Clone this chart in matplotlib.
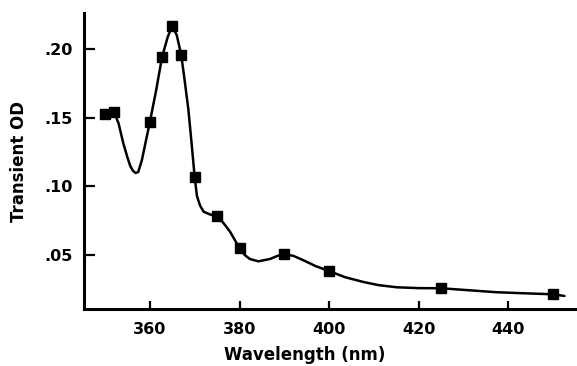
import matplotlib
matplotlib.use("Agg")
import matplotlib.pyplot as plt

# measured points (square markers)
wavelength = [350, 352, 360, 362.7, 365, 367, 370, 375, 380, 390, 400, 425, 450]
od = [0.153, 0.154, 0.147, 0.194, 0.2167, 0.1956, 0.1065, 0.0787, 0.055,
      0.0505, 0.0384, 0.0259, 0.0215]

# hand-drawn smooth curve
curve_wl = [350, 352, 353, 354.1, 355.0, 355.6, 356.2, 356.8, 357.4, 358.2,
            359.1, 360, 361.4, 362.7, 364.0, 365, 366.0, 367, 367.8, 368.6,
            369.4, 370, 370.5, 371.2, 372, 373.5, 375, 376.5, 377.9, 380,
            381.2, 382.3, 384.2, 386.8, 388.5, 390, 392.0, 394.3, 397.0, 400,
            403.5, 407.6, 411.0, 415.1, 420.0, 425, 431.0, 437.4, 444.0, 450,
            452.5]
curve_od = [0.153, 0.154, 0.146, 0.131, 0.121, 0.115, 0.1115, 0.1098, 0.1105, 0.119,
            0.133, 0.147, 0.170, 0.194, 0.209, 0.2167, 0.210, 0.1956, 0.176, 0.1556,
            0.128, 0.1065, 0.093, 0.086, 0.0816, 0.0795, 0.0787, 0.073, 0.067, 0.055,
            0.050, 0.0472, 0.0455, 0.0472, 0.0495, 0.0505, 0.0495, 0.0462, 0.0420, 0.0384,
            0.0340, 0.0305, 0.0282, 0.0266, 0.0260, 0.0259, 0.0245, 0.0230, 0.0222, 0.0215,
            0.0203]

xticks = [360, 380, 400, 420, 440]
yticks = [0.05, 0.10, 0.15, 0.20]
ytick_labels = ['.05', '.10', '.15', '.20']

plt.rcParams['font.family'] = ['DejaVu Sans']
plt.rcParams['font.weight'] = 'bold'

fig = plt.figure(figsize=(5.77, 3.66), dpi=100)
ax = fig.add_axes([0.1456, 0.1557, 0.8544, 0.8088])

ax.plot(curve_wl, curve_od, color='black', lw=1.8, solid_capstyle='round')
ax.plot(wavelength, od, linestyle='none', marker='s', ms=7, color='black')

ax.set_xlim(345.3, 455.3)
ax.set_ylim(0.0108, 0.2262)

for s in ['top', 'right']:
    ax.spines[s].set_visible(False)
for s in ['left', 'bottom']:
    ax.spines[s].set_linewidth(2.2)

ax.set_xticks(xticks)
ax.set_yticks(yticks)
ax.set_yticklabels(ytick_labels)
ax.tick_params(axis='x', direction='in', length=6, width=1.6, labelsize=11.5, pad=9)
ax.tick_params(axis='y', direction='in', length=8, width=1.6, labelsize=11.5, pad=8)

ax.set_xlabel('Wavelength (nm)', fontsize=12, fontweight='bold', labelpad=3)
ax.xaxis.set_label_coords(0.448, -0.125)
ax.set_ylabel('Transient OD', fontsize=12, fontweight='bold')
ax.yaxis.set_label_coords(-0.114, 0.5)

fig.savefig('out.png', dpi=100)
